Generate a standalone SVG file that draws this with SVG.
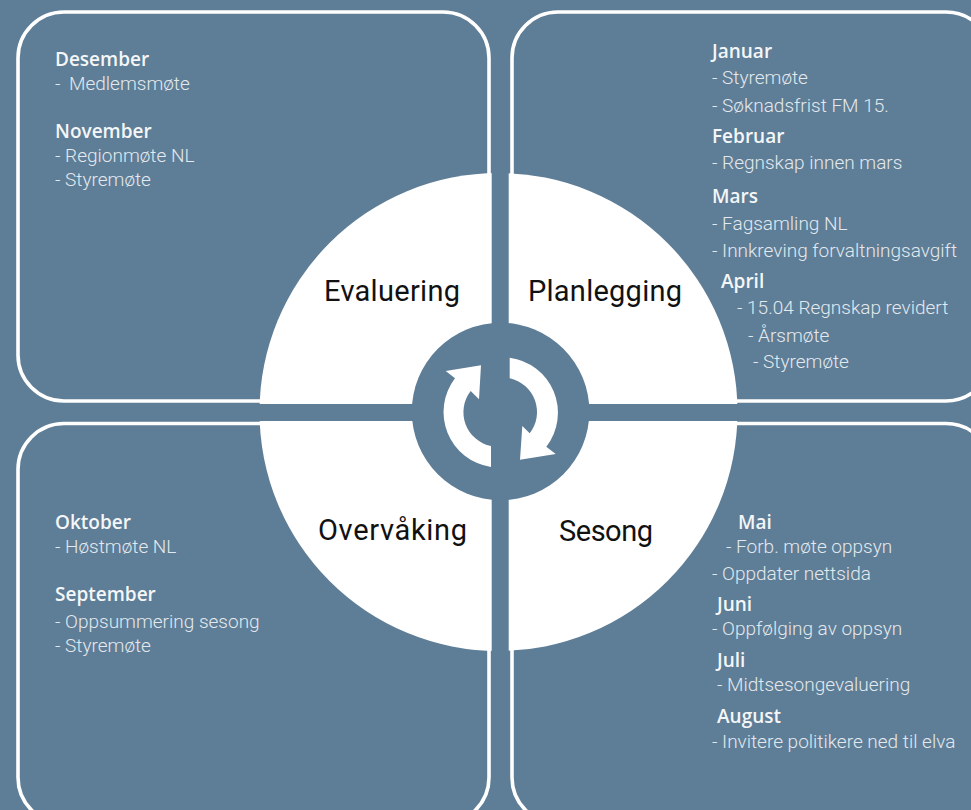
<svg xmlns="http://www.w3.org/2000/svg" width="971" height="810" viewBox="0 0 971 810">
<style>
.panel{fill:none;stroke:#fff;stroke-width:3.6}
.b{font:600 19px "Open Sans","Liberation Sans",sans-serif;fill:#f4f6f8}
.t{font:300 19px "Roboto","Liberation Sans",sans-serif;fill:#e3e9ee}
.h{font:400 29px "Roboto","Liberation Sans",sans-serif;fill:#111}
.bg{fill:#5e7d96}
</style>
<rect class="bg" width="971" height="810"/>
<g id="panel-evaluering"><rect class="panel" x="18" y="12" width="471" height="389" rx="46"/></g>
<g id="panel-planlegging"><rect class="panel" x="512" y="12" width="480" height="389" rx="46"/></g>
<g id="panel-overvaking"><rect class="panel" x="18" y="423.5" width="471" height="400" rx="46"/></g>
<g id="panel-sesong"><rect class="panel" x="512" y="423.5" width="480" height="400" rx="46"/></g>
<g id="wheel">
<circle cx="498.5" cy="412" r="239" fill="#fff"/>
<rect class="bg" x="491.7" y="170" width="17" height="484"/>
<rect class="bg" x="255" y="404" width="490" height="17"/>
<circle class="bg" cx="500.6" cy="411.5" r="88.8"/>
<path fill="#fff" d="M491 467A55.5 55.5 0 0 1 455 378.3L445.7 371L481 365.3L479 399.3L470.7 391A34.5 34.5 0 0 0 491 446Z"/>
<path fill="#fff" d="M509.7 357.7A55.5 55.5 0 0 1 546.3 446.7L555.7 454L520 459.7L522.3 426L529.7 433.3A34.5 34.5 0 0 0 509.7 378.3Z"/>
</g>
<g id="label-evaluering"><text class="h" x="324" y="301" textLength="136">Evaluering</text></g>
<g id="label-planlegging"><text class="h" x="528" y="301" textLength="154">Planlegging</text></g>
<g id="label-overvaking"><text class="h" x="318" y="540" textLength="149">Overvåking</text></g>
<g id="label-sesong"><text class="h" x="559" y="541" textLength="94">Sesong</text></g>
<g id="text-evaluering">
<text class="b" x="55" y="66">Desember</text>
<text class="t" x="55" y="90">-  <tspan x="69">Medlemsmøte</tspan></text>
<text class="b" x="55" y="138">November</text>
<text class="t" x="55" y="162">- Regionmøte NL</text>
<text class="t" x="55" y="186">- Styremøte</text>
</g>
<g id="text-planlegging">
<text class="b" x="712" y="58">Januar</text>
<text class="t" x="712" y="84">- Styremøte</text>
<text class="t" x="712" y="112">- Søknadsfrist FM 15.</text>
<text class="b" x="712" y="143">Februar</text>
<text class="t" x="712" y="169">- Regnskap innen mars</text>
<text class="b" x="712" y="203">Mars</text>
<text class="t" x="712" y="230">- Fagsamling NL</text>
<text class="t" x="712" y="257">- Innkreving forvaltningsavgift</text>
<text class="b" x="721" y="288">April</text>
<text class="t" x="737" y="314">- 15.04 Regnskap revidert</text>
<text class="t" x="748" y="342">- Årsmøte</text>
<text class="t" x="753" y="368">- Styremøte</text>
</g>
<g id="text-overvaking">
<text class="b" x="55" y="529">Oktober</text>
<text class="t" x="55" y="553">- Høstmøte NL</text>
<text class="b" x="55" y="601">September</text>
<text class="t" x="55" y="628">- Oppsummering sesong</text>
<text class="t" x="55" y="652">- Styremøte</text>
</g>
<g id="text-sesong">
<text class="b" x="738" y="529">Mai</text>
<text class="t" x="726" y="553">- Forb. møte oppsyn</text>
<text class="t" x="712" y="580">- Oppdater nettsida</text>
<text class="b" x="717" y="611">Juni</text>
<text class="t" x="712" y="635">- Oppfølging av oppsyn</text>
<text class="b" x="717" y="667">Juli</text>
<text class="t" x="717" y="691">- Midtsesongevaluering</text>
<text class="b" x="717" y="723">August</text>
<text class="t" x="712" y="748">- Invitere politikere ned til elva</text>
</g>
</svg>
